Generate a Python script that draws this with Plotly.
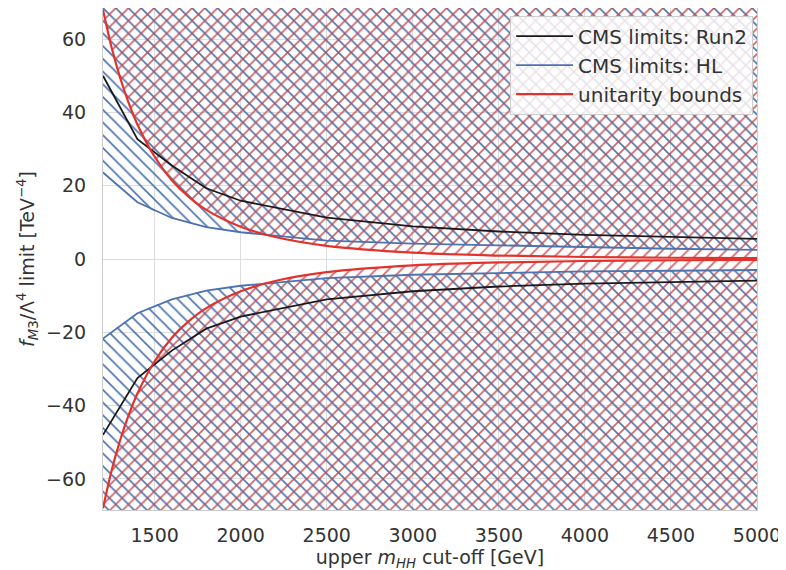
import plotly.graph_objects as go

# ---- data ----
mhh_cut = [1200, 1400, 1600, 1800, 2000, 2500, 3000, 3500, 4000, 4500, 5000]
run2_upper = [50.0, 32.7, 25.5, 19.3, 15.9, 11.3, 8.9, 7.5, 6.6, 6.0, 5.5]
run2_lower = [-48.0, -32.5, -25.0, -19.0, -15.7, -11.0, -8.8, -7.5, -6.7, -6.2, -5.9]
hl_upper = [23.6, 15.5, 11.2, 8.7, 7.3, 5.0, 4.2, 3.7, 3.2, 2.8, 2.5]
hl_lower = [-21.7, -14.8, -11.0, -8.6, -7.3, -5.2, -4.3, -3.8, -3.4, -3.2, -3.0]

mhh_unit = [1200, 1250, 1300, 1350, 1400, 1500, 1600, 1700, 1800, 2000, 2200, 2500,
            3000, 3500, 4000, 4500, 5000]
unit_upper = [68.0, 57.7, 49.4, 42.5, 36.7, 27.9, 21.5, 16.9, 13.4, 8.8, 6.0, 3.6,
              1.74, 0.94, 0.55, 0.34, 0.23]
unit_lower = [-v for v in unit_upper]

x_ticks = [1500, 2000, 2500, 3000, 3500, 4000, 4500, 5000]
y_ticks = [-60, -40, -20, 0, 20, 40, 60]

# ---- style ----
BLUE = "#4c72b0"
BLUE_HATCH = "rgba(76,114,176,1)"
RED = "#e3312b"
RED_HATCH = "rgba(196,70,75,0.85)"
BLACK = "#1a1a1a"
FONT = "DejaVu Sans"
Y_EDGE = 90  # beyond the visible range; clipped by the axes

fig = go.Figure()


def hatched_region(xs, ys, edge, shape, color):
    fig.add_trace(go.Scatter(x=xs, y=[edge] * len(xs), mode="lines",
                             line=dict(width=0), showlegend=False, hoverinfo="skip"))
    fig.add_trace(go.Scatter(x=xs, y=ys, mode="lines", fill="tonexty",
                             line=dict(width=0, shape="spline"),
                             fillcolor="rgba(0,0,0,0)",
                             fillpattern=dict(shape=shape, fgcolor=color,
                                              bgcolor="rgba(0,0,0,0)",
                                              size=9, solidity=0.18, fillmode="replace"),
                             showlegend=False, hoverinfo="skip"))


hatched_region(mhh_cut, hl_upper, Y_EDGE, "\\", BLUE_HATCH)
hatched_region(mhh_cut, hl_lower, -Y_EDGE, "\\", BLUE_HATCH)
hatched_region(mhh_unit, unit_upper, Y_EDGE, "/", RED_HATCH)
hatched_region(mhh_unit, unit_lower, -Y_EDGE, "/", RED_HATCH)

fig.add_trace(go.Scatter(x=mhh_cut, y=run2_upper, mode="lines", name="CMS limits: Run2",
                         legendgroup="a", line=dict(color=BLACK, width=1.8)))
fig.add_trace(go.Scatter(x=mhh_cut, y=run2_lower, mode="lines", showlegend=False,
                         legendgroup="a", line=dict(color=BLACK, width=1.8)))
fig.add_trace(go.Scatter(x=mhh_cut, y=hl_upper, mode="lines", name="CMS limits: HL",
                         legendgroup="b", line=dict(color=BLUE, width=1.8)))
fig.add_trace(go.Scatter(x=mhh_cut, y=hl_lower, mode="lines", showlegend=False,
                         legendgroup="b", line=dict(color=BLUE, width=1.8)))
fig.add_trace(go.Scatter(x=mhh_unit, y=unit_upper, mode="lines", name="unitarity bounds",
                         legendgroup="c", line=dict(color=RED, width=2.2, shape="spline")))
fig.add_trace(go.Scatter(x=mhh_unit, y=unit_lower, mode="lines", showlegend=False,
                         legendgroup="c", line=dict(color=RED, width=2.2, shape="spline")))

fig.update_layout(
    width=786, height=570,
    margin=dict(l=95, r=37, t=0, b=68, autoexpand=False),
    paper_bgcolor="white", plot_bgcolor="white",
    font=dict(family=FONT, size=19, color="#333333"),
    legend=dict(x=0.994, y=0.985, xanchor="right", yanchor="top",
                bgcolor="rgba(255,255,255,0.82)", bordercolor="#cccccc", borderwidth=1,
                font=dict(size=20, color="#333333"), traceorder="grouped",
                tracegroupgap=0, itemwidth=57),
    xaxis=dict(range=[1200, 5000], tickvals=x_ticks, showgrid=True, gridcolor="#dddddd",
               zeroline=False, showline=True, linecolor="#cccccc", mirror=True,
               ticks="", ticklabelstandoff=8, automargin=False,
               title=dict(text="upper <i>m</i><sub><i>HH</i></sub> cut-off [GeV]",
                          standoff=2, font=dict(size=19))),
    yaxis=dict(range=[-68.5, 68.5], tickvals=y_ticks,
               ticktext=[str(v).replace("-", "\u2212") for v in y_ticks],
               showgrid=True, gridcolor="#dddddd",
               zeroline=False, showline=True, linecolor="#cccccc", mirror=True,
               ticks="", ticklabelstandoff=12, automargin=False,
               title=dict(text="<i>f</i><sub><i>M</i>3</sub>/\u039b<sup>4</sup> limit [TeV<sup>\u22124</sup>]",
                          standoff=6, font=dict(size=19))),
)

fig.write_html("out.html")
